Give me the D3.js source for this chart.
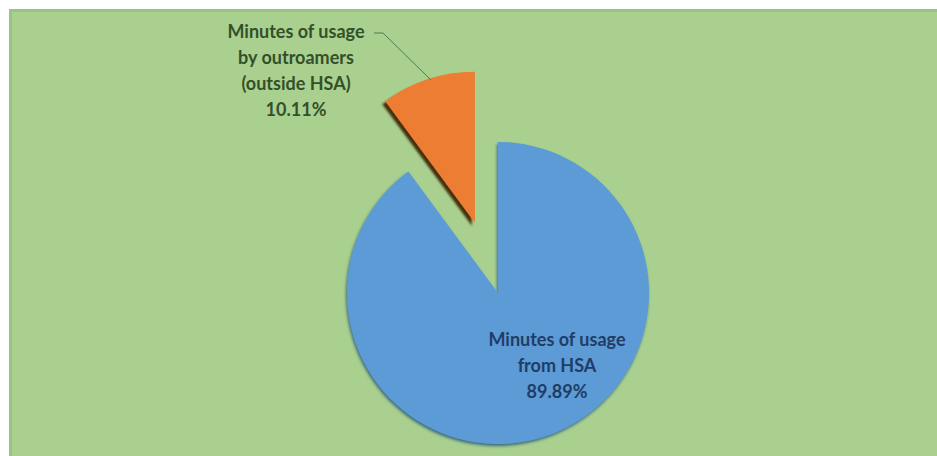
<!DOCTYPE html>
<html><head><meta charset="utf-8">
<script src="https://cdn.jsdelivr.net/npm/d3@7"></script>
<style>html,body{margin:0;padding:0;background:#fff;}svg{display:block;}</style>
</head><body>
<script>
const categories = ["Minutes of usage from HSA", "Minutes of usage by outroamers (outside HSA)"];
const values = [89.89, 10.11];
const labelLines = [["Minutes of usage", "from HSA", "89.89%"], ["Minutes of usage", "by outroamers", "(outside HSA)", "10.11%"]];
const colors = ["#5b9bd5", "#ed7d31"];
const explode = [0, 74];

const W = 937, H = 456;
const svg = d3.select("body").append("svg").attr("width", W).attr("height", H);
const defs = svg.append("defs");
const f = defs.append("filter").attr("id", "sh").attr("x", "-20%").attr("y", "-20%").attr("width", "140%").attr("height", "140%");
f.append("feDropShadow").attr("dx", -3).attr("dy", 3).attr("stdDeviation", 1.2).attr("flood-color", "#3a1a05").attr("flood-opacity", 0.9);
const fb = defs.append("filter").attr("id", "shb").attr("x", "-20%").attr("y", "-20%").attr("width", "140%").attr("height", "140%");
fb.append("feDropShadow").attr("dx", -1).attr("dy", 2).attr("stdDeviation", 1.5).attr("flood-color", "#24507a").attr("flood-opacity", 0.8);

// panel
svg.append("rect").attr("x", 9).attr("y", 9).attr("width", W - 9).attr("height", H - 9).attr("fill", "#a9d08e");
svg.append("rect").attr("x", 9).attr("y", 9).attr("width", W - 9).attr("height", 3).attr("fill", "#9cc283");
svg.append("rect").attr("x", 9).attr("y", 9).attr("width", 3).attr("height", H - 9).attr("fill", "#9cc283");

const cx = 498, cy = 293, r = 151;
const pie = d3.pie().sort(null).startAngle(0).endAngle(2 * Math.PI)(values);
const arc = d3.arc().innerRadius(0).outerRadius(r);

const g = svg.append("g").attr("transform", `translate(${cx},${cy})`);
pie.forEach((d, i) => {
  const mid = (d.startAngle + d.endAngle) / 2;
  const ox = Math.sin(mid) * explode[i], oy = -Math.cos(mid) * explode[i];
  g.append("path").attr("d", arc(d)).attr("transform", `translate(${ox},${oy})`)
    .attr("fill", colors[i]).attr("filter", i === 1 ? "url(#sh)" : "url(#shb)");
});

// blue label
const blue = svg.append("text").attr("font-family", "Lato, 'Open Sans', sans-serif").attr("font-size", 18).attr("font-weight", "bold")
  .attr("fill", "#1f3d66").attr("text-anchor", "middle");
labelLines[0].forEach((t, k) => blue.append("tspan").attr("x", 557).attr("y", 346 + k * 26).text(t));

// orange label
const org = svg.append("text").attr("font-family", "Lato, 'Open Sans', sans-serif").attr("font-size", 18).attr("font-weight", "bold")
  .attr("fill", "#33502a").attr("text-anchor", "middle");
labelLines[1].forEach((t, k) => org.append("tspan").attr("x", 296).attr("y", 38 + k * 26).text(t));

// leader line
svg.append("polyline").attr("points", "374,33 383,33 431,80").attr("fill", "none")
  .attr("stroke", "#4f7a55").attr("stroke-width", 1);
</script>
</body></html>
